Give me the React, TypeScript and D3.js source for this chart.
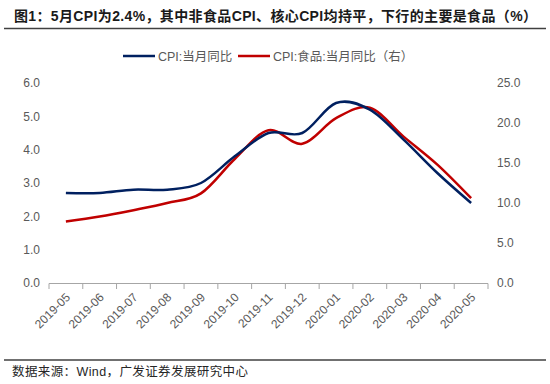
import React from 'react';
import * as d3 from 'd3';

const months = [
  '2019-05', '2019-06', '2019-07', '2019-08', '2019-09', '2019-10', '2019-11',
  '2019-12', '2020-01', '2020-02', '2020-03', '2020-04', '2020-05',
];
const cpi = [2.7, 2.7, 2.8, 2.8, 3.0, 3.8, 4.5, 4.5, 5.4, 5.2, 4.3, 3.3, 2.4];
const foodCpi = [7.7, 8.3, 9.1, 10.0, 11.2, 15.5, 19.1, 17.4, 20.6, 21.9, 18.3, 14.8, 10.6];
const leftTicks = [0, 1, 2, 3, 4, 5, 6];
const rightTicks = [0, 5, 10, 15, 20, 25];

const title = '图1：5月CPI为2.4%，其中非食品CPI、核心CPI均持平，下行的主要是食品（%）';
const source = '数据来源：Wind，广发证券发展研究中心';
const legendNames = ['CPI:当月同比', 'CPI:食品:当月同比（右）'];

const W = 550;
const H = 384;
const font = '"Liberation Sans", Arial, "Noto Sans CJK SC", sans-serif';
const blue = '#002060';
const red = '#C00000';
const gray = '#595959';

const App = () => {
  const x = d3.scaleBand<string>().domain(months).range([49, 488]).padding(0);
  const yL = d3.scaleLinear().domain([0, 6]).range([283, 83]);
  const yR = d3.scaleLinear().domain([0, 25]).range([283, 83]);
  const cx = (m: string) => (x(m) ?? 0) + x.bandwidth() / 2;

  // smooth lines, like the excel "smoothed line" option
  const lineL = d3.line<number>()
    .x((_, i) => cx(months[i]))
    .y(d => yL(d))
    .curve(d3.curveCatmullRom.alpha(0));
  const lineR = d3.line<number>()
    .x((_, i) => cx(months[i]))
    .y(d => yR(d))
    .curve(d3.curveCatmullRom.alpha(0));

  const boundaries = months.map(m => x(m) ?? 0).concat([x.range()[1]]);

  return (
    <svg width={W} height={H} style={{ position: 'absolute', left: 0, top: 0, background: '#fff' }}>
      <text x={14} y={21} fontFamily={font} fontSize={14} fontWeight="bold" fill="#1a1a1a"
        textLength={523} lengthAdjust="spacing">{title}</text>
      <line x1={4} x2={546} y1={28.5} y2={28.5} stroke="#404040" strokeWidth={1.5} />

      {/* legend */}
      <g fontFamily={font} fontSize={12.5} fill={gray}>
        <line x1={123} x2={155} y1={56} y2={56} stroke={blue} strokeWidth={2.5} />
        <text x={158} y={60.5}>{legendNames[0]}</text>
        <line x1={238} x2={270} y1={56} y2={56} stroke={red} strokeWidth={2.5} />
        <text x={273} y={60.5}>{legendNames[1]}</text>
      </g>

      {/* y axes */}
      <g fontFamily={font} fontSize={12} fill={gray}>
        {leftTicks.map(t => (
          <text key={t} x={40} y={yL(t)} dy="0.35em" textAnchor="end">{t.toFixed(1)}</text>
        ))}
        {rightTicks.map(t => (
          <text key={t} x={497} y={yR(t)} dy="0.35em">{t.toFixed(1)}</text>
        ))}
      </g>

      {/* x axis */}
      <line x1={x.range()[0]} x2={x.range()[1]} y1={283.5} y2={283.5} stroke="#a6a6a6" strokeWidth={1} />
      {boundaries.map((b, i) => (
        <line key={i} x1={b} x2={b} y1={283.5} y2={289} stroke="#a6a6a6" strokeWidth={1} />
      ))}
      <g fontFamily={font} fontSize={12} fill={gray}>
        {months.map(m => (
          <text key={m} textAnchor="end" transform={`translate(${cx(m) + 5},${298}) rotate(-45)`}>{m}</text>
        ))}
      </g>

      {/* series */}
      <path d={lineR(foodCpi) ?? ''} fill="none" stroke={red} strokeWidth={2.5} />
      <path d={lineL(cpi) ?? ''} fill="none" stroke={blue} strokeWidth={2.5} />

      <line x1={4} x2={546} y1={360} y2={360} stroke="#404040" strokeWidth={1.5} />
      <text x={12} y={375.5} fontFamily={font} fontSize={12.5} fill="#262626"
        textLength={236} lengthAdjust="spacing">{source}</text>
    </svg>
  );
};

export default App;
